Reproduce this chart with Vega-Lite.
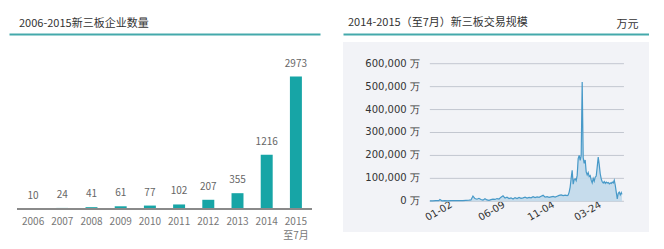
{
  "$schema": "https://vega.github.io/schema/vega-lite/v6.json",
  "padding": {"left": 9, "top": 17, "right": 0, "bottom": 0},
  "background": "#ffffff",
  "config": {
    "view": {"stroke": null},
    "font": "Noto Sans CJK SC",
    "title": {"font": "Noto Sans CJK SC", "fontSize": 11, "fontWeight": "normal", "color": "#333333", "anchor": "start", "frame": "group"}
  },
  "spacing": 23,
  "hconcat": [
    {
      "width": 311,
      "height": 167,
      "title": {"text": "2006-2015新三板企业数量", "dx": 10, "offset": 5},
      "data": {"values": [
        {"year": "2006", "n": 10},
        {"year": "2007", "n": 24},
        {"year": "2008", "n": 41},
        {"year": "2009", "n": 61},
        {"year": "2010", "n": 77},
        {"year": "2011", "n": 102},
        {"year": "2012", "n": 207},
        {"year": "2013", "n": 355},
        {"year": "2014", "n": 1216},
        {"year": "2015", "n": 2973}
      ]},
      "resolve": {"axis": {"x": "independent"}},
      "layer": [
        {
          "mark": {"type": "bar", "color": "#17a5a6"},
          "encoding": {
            "x": {
              "field": "year", "type": "ordinal", "sort": null,
              "scale": {"type": "band", "paddingInner": 0.59, "paddingOuter": 0.62},
              "axis": {
                "orient": "bottom", "title": null, "domain": false, "ticks": false,
                "labelAngle": 0, "labelPadding": 7, "labelFontSize": 10, "labelColor": "#777777",
                "labelFont": "Noto Sans CJK SC", "labelLineHeight": 14,
                "labelExpr": "datum.value == '2015' ? ['2015', '至7月'] : datum.value"
              }
            },
            "y": {"field": "n", "type": "quantitative", "scale": {"domain": [0, 3750], "nice": false}, "axis": null}
          }
        },
        {
          "mark": {"type": "text", "baseline": "middle", "dy": -13, "fontSize": 10, "color": "#666666", "font": "Noto Sans CJK SC"},
          "encoding": {
            "x": {
              "field": "year", "type": "ordinal", "sort": null,
              "axis": {
                "orient": "top", "offset": 8, "title": null, "labels": false, "ticks": false, "grid": false,
                "domain": true, "domainColor": "#44a9ab", "domainWidth": 2
              }
            },
            "y": {"field": "n", "type": "quantitative", "axis": null},
            "text": {"field": "n", "type": "quantitative"}
          }
        },
        {
          "mark": {"type": "rule", "color": "#8a8a8a", "strokeWidth": 1.5},
          "encoding": {
            "x": {"datum": "2006", "type": "ordinal", "bandPosition": -0.83, "axis": null},
            "x2": {"datum": "2015", "bandPosition": 1.83},
            "y": {"datum": 0, "type": "quantitative", "axis": null}
          }
        }
      ]
    },
    {
      "width": 306,
      "height": 190,
      "view": {"fill": "#f2f3f7", "stroke": null},
      "title": {"text": "2014-2015（至7月）新三板交易规模", "dx": 5, "offset": 5, "dy": 15},
      "resolve": {"axis": {"x": "independent"}},
      "layer": [
        {
          "data": {"name": "grid"},
          "mark": {"type": "rule", "color": "#c3c7d0", "strokeWidth": 1},
          "encoding": {
            "x": {"datum": {"year": 2014, "month": 1, "date": 2, "utc": true}, "type": "temporal", "axis": null},
            "x2": {"datum": {"year": 2015, "month": 8, "date": 6, "utc": true}},
            "y": {
              "field": "v", "type": "quantitative",
              "scale": {"domain": [-133900, 694600], "nice": false, "zero": false},
              "axis": null
            }
          }
        },
        {
          "data": {"name": "grid"},
          "mark": {"type": "text", "align": "right", "baseline": "middle", "dx": -10, "font": "DejaVu Sans", "fontSize": 10, "color": "#333333"},
          "encoding": {
            "x": {"datum": {"year": 2014, "month": 1, "date": 2, "utc": true}, "type": "temporal", "axis": null},
            "y": {"field": "v", "type": "quantitative", "axis": null},
            "text": {"field": "label", "type": "nominal"}
          }
        },
        {
          "data": {"name": "trade"},
          "mark": {"type": "area", "color": "#c1d9ea", "opacity": 0.9},
          "encoding": {
            "x": {
              "field": "date", "type": "temporal",
              "axis": {
                "orient": "top", "offset": 8, "labels": false, "ticks": false, "grid": false,
                "domain": true, "domainColor": "#44a9ab", "domainWidth": 2,
                "title": "万元", "titleX": 295, "titleAlign": "right", "titlePadding": 5,
                "titleFont": "Noto Sans CJK SC", "titleFontSize": 11, "titleFontWeight": "normal", "titleColor": "#333333"
              }
            },
            "y": {"field": "v", "type": "quantitative", "axis": null},
            "y2": {"datum": 0}
          }
        },
        {
          "data": {"name": "trade"},
          "mark": {"type": "line", "color": "#4799c8", "strokeWidth": 1.2},
          "encoding": {
            "x": {
              "field": "date", "type": "temporal",
              "scale": {
                "type": "utc", "nice": false,
                "domain": [{"year": 2013, "month": 4, "date": 17, "utc": true}, {"year": 2015, "month": 10, "date": 20, "utc": true}]
              },
              "axis": {
                "orient": "bottom", "offset": -31, "title": null, "domain": false, "ticks": false, "grid": false,
                "values": [
                  {"year": 2014, "month": 1, "date": 2, "utc": true},
                  {"year": 2014, "month": 6, "date": 9, "utc": true},
                  {"year": 2014, "month": 11, "date": 4, "utc": true},
                  {"year": 2015, "month": 3, "date": 24, "utc": true}
                ],
                "format": "%m-%d", "labelAngle": -30, "labelAlign": "left", "labelBaseline": "middle",
                "labelPadding": 17, "labelOffset": -4, "labelFont": "DejaVu Sans", "labelFontSize": 10, "labelColor": "#333333"
              }
            },
            "y": {"field": "v", "type": "quantitative", "axis": null}
          }
        }
      ]
    }
  ],
  "datasets": {
    "grid": [
      {"v": 0, "label": "0 万"},
      {"v": 100000, "label": "100,000 万"},
      {"v": 200000, "label": "200,000 万"},
      {"v": 300000, "label": "300,000 万"},
      {"v": 400000, "label": "400,000 万"},
      {"v": 500000, "label": "500,000 万"},
      {"v": 600000, "label": "600,000 万"}
    ],
    "trade": [
      {"date": "2014-01-02", "v": 2000},
      {"date": "2014-01-11", "v": 1500},
      {"date": "2014-01-20", "v": 2500},
      {"date": "2014-01-29", "v": 3000},
      {"date": "2014-02-01", "v": 8000},
      {"date": "2014-02-07", "v": 2000},
      {"date": "2014-02-16", "v": 2500},
      {"date": "2014-02-25", "v": 2000},
      {"date": "2014-03-06", "v": 3000},
      {"date": "2014-03-15", "v": 2500},
      {"date": "2014-03-24", "v": 3000},
      {"date": "2014-04-02", "v": 3500},
      {"date": "2014-04-11", "v": 3000},
      {"date": "2014-04-20", "v": 4000},
      {"date": "2014-04-29", "v": 5000},
      {"date": "2014-05-05", "v": 6000},
      {"date": "2014-05-11", "v": 23000},
      {"date": "2014-05-17", "v": 12000},
      {"date": "2014-05-23", "v": 9000},
      {"date": "2014-05-29", "v": 13000},
      {"date": "2014-06-04", "v": 8000},
      {"date": "2014-06-10", "v": 5000},
      {"date": "2014-06-16", "v": 11000},
      {"date": "2014-06-22", "v": 6000},
      {"date": "2014-06-28", "v": 4000},
      {"date": "2014-07-04", "v": 7000},
      {"date": "2014-07-10", "v": 9000},
      {"date": "2014-07-16", "v": 8000},
      {"date": "2014-07-22", "v": 12000},
      {"date": "2014-07-28", "v": 10000},
      {"date": "2014-08-03", "v": 18000},
      {"date": "2014-08-09", "v": 24000},
      {"date": "2014-08-15", "v": 14000},
      {"date": "2014-08-21", "v": 18000},
      {"date": "2014-08-27", "v": 12000},
      {"date": "2014-09-02", "v": 15000},
      {"date": "2014-09-08", "v": 10000},
      {"date": "2014-09-14", "v": 16000},
      {"date": "2014-09-20", "v": 12000},
      {"date": "2014-09-26", "v": 17000},
      {"date": "2014-10-02", "v": 13000},
      {"date": "2014-10-08", "v": 15000},
      {"date": "2014-10-14", "v": 18000},
      {"date": "2014-10-20", "v": 14000},
      {"date": "2014-10-26", "v": 17000},
      {"date": "2014-11-01", "v": 15000},
      {"date": "2014-11-07", "v": 20000},
      {"date": "2014-11-13", "v": 16000},
      {"date": "2014-11-19", "v": 19000},
      {"date": "2014-11-25", "v": 17000},
      {"date": "2014-12-01", "v": 22000},
      {"date": "2014-12-07", "v": 26000},
      {"date": "2014-12-13", "v": 18000},
      {"date": "2014-12-19", "v": 20000},
      {"date": "2014-12-25", "v": 17000},
      {"date": "2014-12-31", "v": 19000},
      {"date": "2015-01-06", "v": 21000},
      {"date": "2015-01-12", "v": 18000},
      {"date": "2015-01-18", "v": 22000},
      {"date": "2015-01-24", "v": 26000},
      {"date": "2015-01-30", "v": 28000},
      {"date": "2015-02-05", "v": 25000},
      {"date": "2015-02-11", "v": 27000},
      {"date": "2015-02-17", "v": 25000},
      {"date": "2015-02-20", "v": 27000},
      {"date": "2015-02-23", "v": 40000},
      {"date": "2015-02-26", "v": 62000},
      {"date": "2015-03-01", "v": 100000},
      {"date": "2015-03-04", "v": 135000},
      {"date": "2015-03-07", "v": 75000},
      {"date": "2015-03-10", "v": 95000},
      {"date": "2015-03-13", "v": 98000},
      {"date": "2015-03-16", "v": 90000},
      {"date": "2015-03-19", "v": 113000},
      {"date": "2015-03-22", "v": 186000},
      {"date": "2015-03-25", "v": 200000},
      {"date": "2015-03-28", "v": 178000},
      {"date": "2015-03-31", "v": 200000},
      {"date": "2015-04-03", "v": 520000},
      {"date": "2015-04-06", "v": 190000},
      {"date": "2015-04-09", "v": 165000},
      {"date": "2015-04-12", "v": 180000},
      {"date": "2015-04-15", "v": 128000},
      {"date": "2015-04-18", "v": 115000},
      {"date": "2015-04-21", "v": 125000},
      {"date": "2015-04-24", "v": 108000},
      {"date": "2015-04-27", "v": 112000},
      {"date": "2015-04-30", "v": 92000},
      {"date": "2015-05-03", "v": 80000},
      {"date": "2015-05-06", "v": 100000},
      {"date": "2015-05-09", "v": 88000},
      {"date": "2015-05-12", "v": 105000},
      {"date": "2015-05-15", "v": 110000},
      {"date": "2015-05-18", "v": 150000},
      {"date": "2015-05-21", "v": 193000},
      {"date": "2015-05-24", "v": 160000},
      {"date": "2015-05-27", "v": 120000},
      {"date": "2015-05-30", "v": 98000},
      {"date": "2015-06-02", "v": 85000},
      {"date": "2015-06-05", "v": 80000},
      {"date": "2015-06-08", "v": 86000},
      {"date": "2015-06-11", "v": 78000},
      {"date": "2015-06-14", "v": 84000},
      {"date": "2015-06-17", "v": 80000},
      {"date": "2015-06-20", "v": 82000},
      {"date": "2015-06-23", "v": 76000},
      {"date": "2015-06-26", "v": 80000},
      {"date": "2015-06-29", "v": 78000},
      {"date": "2015-07-02", "v": 84000},
      {"date": "2015-07-05", "v": 80000},
      {"date": "2015-07-08", "v": 92000},
      {"date": "2015-07-11", "v": 70000},
      {"date": "2015-07-14", "v": 40000},
      {"date": "2015-07-17", "v": 10000},
      {"date": "2015-07-20", "v": 35000},
      {"date": "2015-07-23", "v": 40000},
      {"date": "2015-07-26", "v": 28000},
      {"date": "2015-07-29", "v": 38000},
      {"date": "2015-07-31", "v": 30000}
    ]
  }
}
